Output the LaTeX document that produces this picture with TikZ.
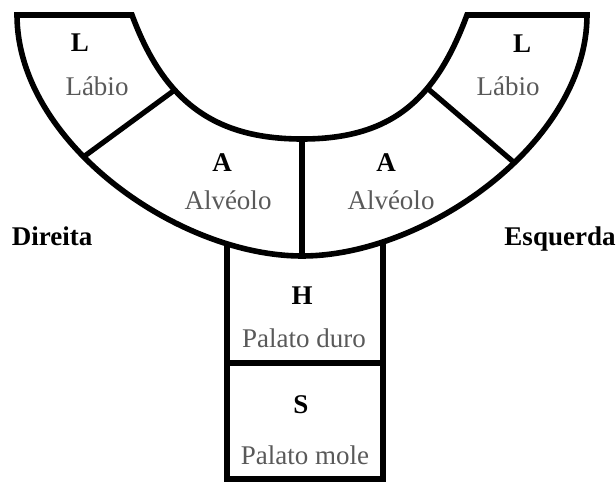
\documentclass[tikz,border=0pt]{standalone}
\usepackage{fontspec}
\setmainfont{Liberation Serif}
\usetikzlibrary{calc,intersections}
\definecolor{txtgray}{HTML}{595959}
\begin{document}
\begin{tikzpicture}[x=1pt,y=1pt,
  wall/.style={line width=5.6pt, line join=miter},
  divider/.style={line width=5.2pt},
  tag/.style={anchor=base, font=\fontsize{27}{32}\selectfont\bfseries, text=black, inner sep=0pt},
  region/.style={anchor=base, font=\fontsize{27}{32}\selectfont, text=txtgray, inner sep=0pt}]
\useasboundingbox (0,0) rectangle (616,-482);
% arch outline
\draw[wall] (17,-15) .. controls (17,-142) and (178,-256) .. (302,-256)
  .. controls (426,-256) and (587,-142) .. (587,-15) -- (467,-15)
  .. controls (435.7,-99.3) and (392,-139) .. (302,-139)
  .. controls (212,-139) and (163.3,-99.3) .. (132,-15) -- cycle;
% helper paths
\path[name path=outL] (17,-15) .. controls (17,-142) and (178,-256) .. (302,-256);
\path[name path=outR] (302,-256) .. controls (426,-256) and (587,-142) .. (587,-15);
\path[name path=inL] (302,-139) .. controls (212,-139) and (163.3,-99.3) .. (132,-15);
\path[name path=inR] (467,-15) .. controls (435.7,-99.3) and (392,-139) .. (302,-139);
\path[name path=dL] ($(172,-92)!-0.3!(82,-158)$) -- ($(172,-92)!1.3!(82,-158)$);
\path[name path=dR] ($(427,-88)!-0.3!(517,-165)$) -- ($(427,-88)!1.3!(517,-165)$);
\path[name path=vL] (227,-150) -- (227,-300);
\path[name path=vR] (383,-150) -- (383,-300);
\path[name intersections={of=inL and dL, by=jLi}];
\path[name intersections={of=outL and dL, by=jLo}];
\path[name intersections={of=inR and dR, by=jRi}];
\path[name intersections={of=outR and dR, by=jRo}];
\path[name intersections={of=outL and vL, by=rTL}];
\path[name intersections={of=outR and vR, by=rTR}];
\coordinate (cIn) at (302,-139);
\coordinate (cOut) at (302,-256);
\coordinate (rBL) at (227,-479);
\coordinate (rBR) at (383,-479);
\coordinate (rML) at (227,-363);
\coordinate (rMR) at (383,-363);
% dividers
\draw[divider] (jLi) -- (jLo);
\draw[divider] (jRi) -- (jRo);
\draw[divider] (cIn) -- (cOut);
% stem boxes
\draw[wall] (rTL) -- (rBL) -- (rBR) -- (rTR);
\draw[divider] (rML) -- (rMR);
% labels
\node[tag] (L1) at (80,-51) {L};
\node[region] (L1t) at (97,-95) {Lábio};
\node[tag] (A1) at (222,-171) {A};
\node[region] (A1t) at (228,-209) {Alvéolo};
\node[tag] (A2) at (386,-171) {A};
\node[region] (A2t) at (391,-209) {Alvéolo};
\node[tag] (L2) at (522,-52) {L};
\node[region] (L2t) at (508,-95) {Lábio};
\node[tag] (H) at (302,-304) {H};
\node[region] (Ht) at (304,-347) {Palato duro};
\node[tag] (S) at (301,-413) {S};
\node[region] (St) at (305,-464) {Palato mole};
\node[tag] (dir) at (52,-245) {Direita};
\node[tag] (esq) at (560,-245) {Esquerda};
\end{tikzpicture}
\end{document}
